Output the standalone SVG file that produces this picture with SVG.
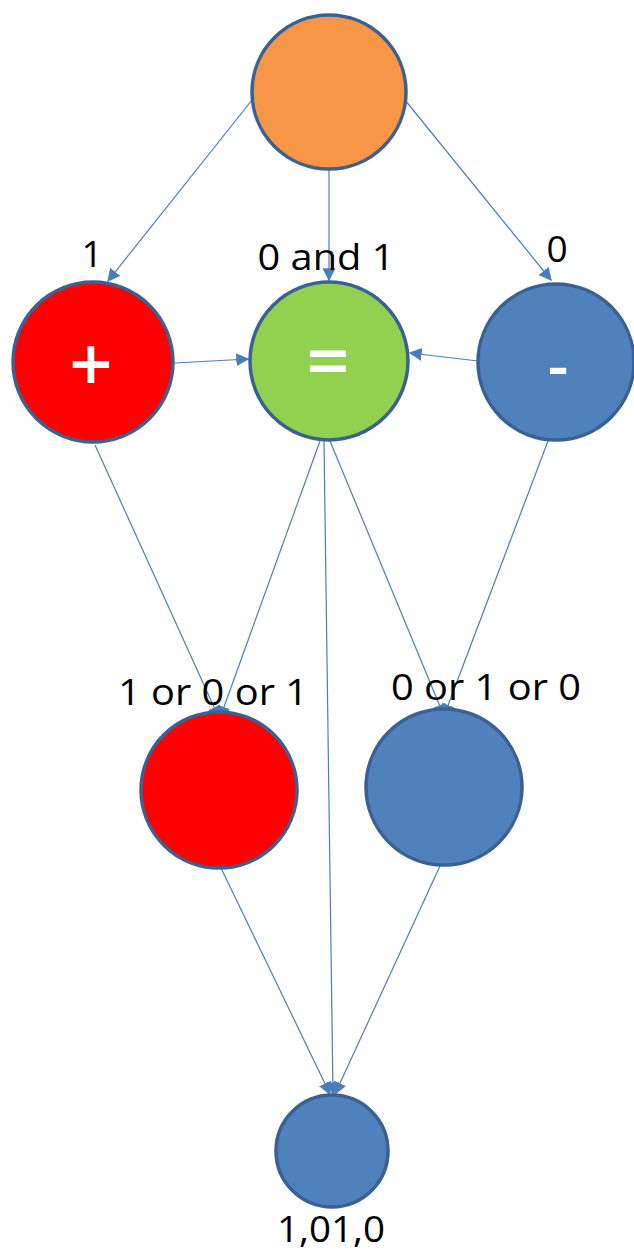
<svg xmlns="http://www.w3.org/2000/svg" width="634" height="1254" viewBox="0 0 634 1254">
<style>
.n{stroke:#3b6193;stroke-width:3.5}
.c{stroke:#4a7ebb;stroke-width:1.2;fill:none}
.t{font-family:"Open Sans","Liberation Sans",sans-serif;font-size:37px;fill:#000;text-anchor:middle}
.s{font-family:"Open Sans","Liberation Sans",sans-serif;font-weight:600;fill:#fff;text-anchor:middle}
</style>
<defs>
<marker id="a" viewBox="0 0 10 10" refX="9" refY="5" markerWidth="13" markerHeight="13" markerUnits="userSpaceOnUse" orient="auto">
<path d="M0,0 L10,5 L0,10 z" fill="#4a7ebb"/>
</marker>
</defs>
<g id="connectors">
<line class="c" x1="252" y1="100" x2="108" y2="281" marker-end="url(#a)"/>
<line class="c" x1="329" y1="170" x2="329" y2="280" marker-end="url(#a)"/>
<line class="c" x1="405" y1="100" x2="551" y2="280" marker-end="url(#a)"/>
<line class="c" x1="175" y1="363" x2="248" y2="359" marker-end="url(#a)"/>
<line class="c" x1="478" y1="361" x2="410" y2="353" marker-end="url(#a)"/>
<line class="c" x1="95" y1="445" x2="219" y2="718" marker-end="url(#a)"/>
<line class="c" x1="320" y1="441" x2="220" y2="718" marker-end="url(#a)"/>
<line class="c" x1="324" y1="441" x2="333" y2="1094" marker-end="url(#a)"/>
<line class="c" x1="330" y1="441" x2="444" y2="716" marker-end="url(#a)"/>
<line class="c" x1="548" y1="441" x2="444" y2="716" marker-end="url(#a)"/>
<line class="c" x1="221" y1="868" x2="330" y2="1094" marker-end="url(#a)"/>
<line class="c" x1="440" y1="866" x2="335" y2="1094" marker-end="url(#a)"/>
</g>
<g id="top"><circle class="n" cx="329" cy="92" r="77" fill="#f79646"/></g>
<g id="plus"><circle class="n" cx="93" cy="362" r="80" fill="#ff0000"/><text class="s" x="91" y="392" font-size="76">+</text><text class="t" x="92" y="267">1</text></g>
<g id="equal"><circle class="n" cx="329" cy="361" r="79" fill="#92d050"/><text class="s" x="328" y="388" font-size="76">=</text><text class="t" x="326" y="270" textLength="137" lengthAdjust="spacingAndGlyphs">0 and 1</text></g>
<g id="minus"><circle class="n" cx="556" cy="362" r="78" fill="#4f81bd"/><text class="s" x="558" y="388" font-size="64">-</text><text class="t" x="557" y="262">0</text></g>
<g id="red2"><circle class="n" cx="219" cy="790" r="78" fill="#ff0000"/><text class="t" x="213" y="705" textLength="190" lengthAdjust="spacingAndGlyphs">1 or 0 or 1</text></g>
<g id="blue2"><circle class="n" cx="444" cy="787" r="78" fill="#4f81bd"/><text class="t" x="486" y="700" textLength="190" lengthAdjust="spacingAndGlyphs">0 or 1 or 0</text></g>
<g id="bottom"><circle class="n" cx="332" cy="1151" r="56" fill="#4f81bd"/><text class="t" x="331" y="1242" textLength="108" lengthAdjust="spacingAndGlyphs">1,01,0</text></g>
</svg>
